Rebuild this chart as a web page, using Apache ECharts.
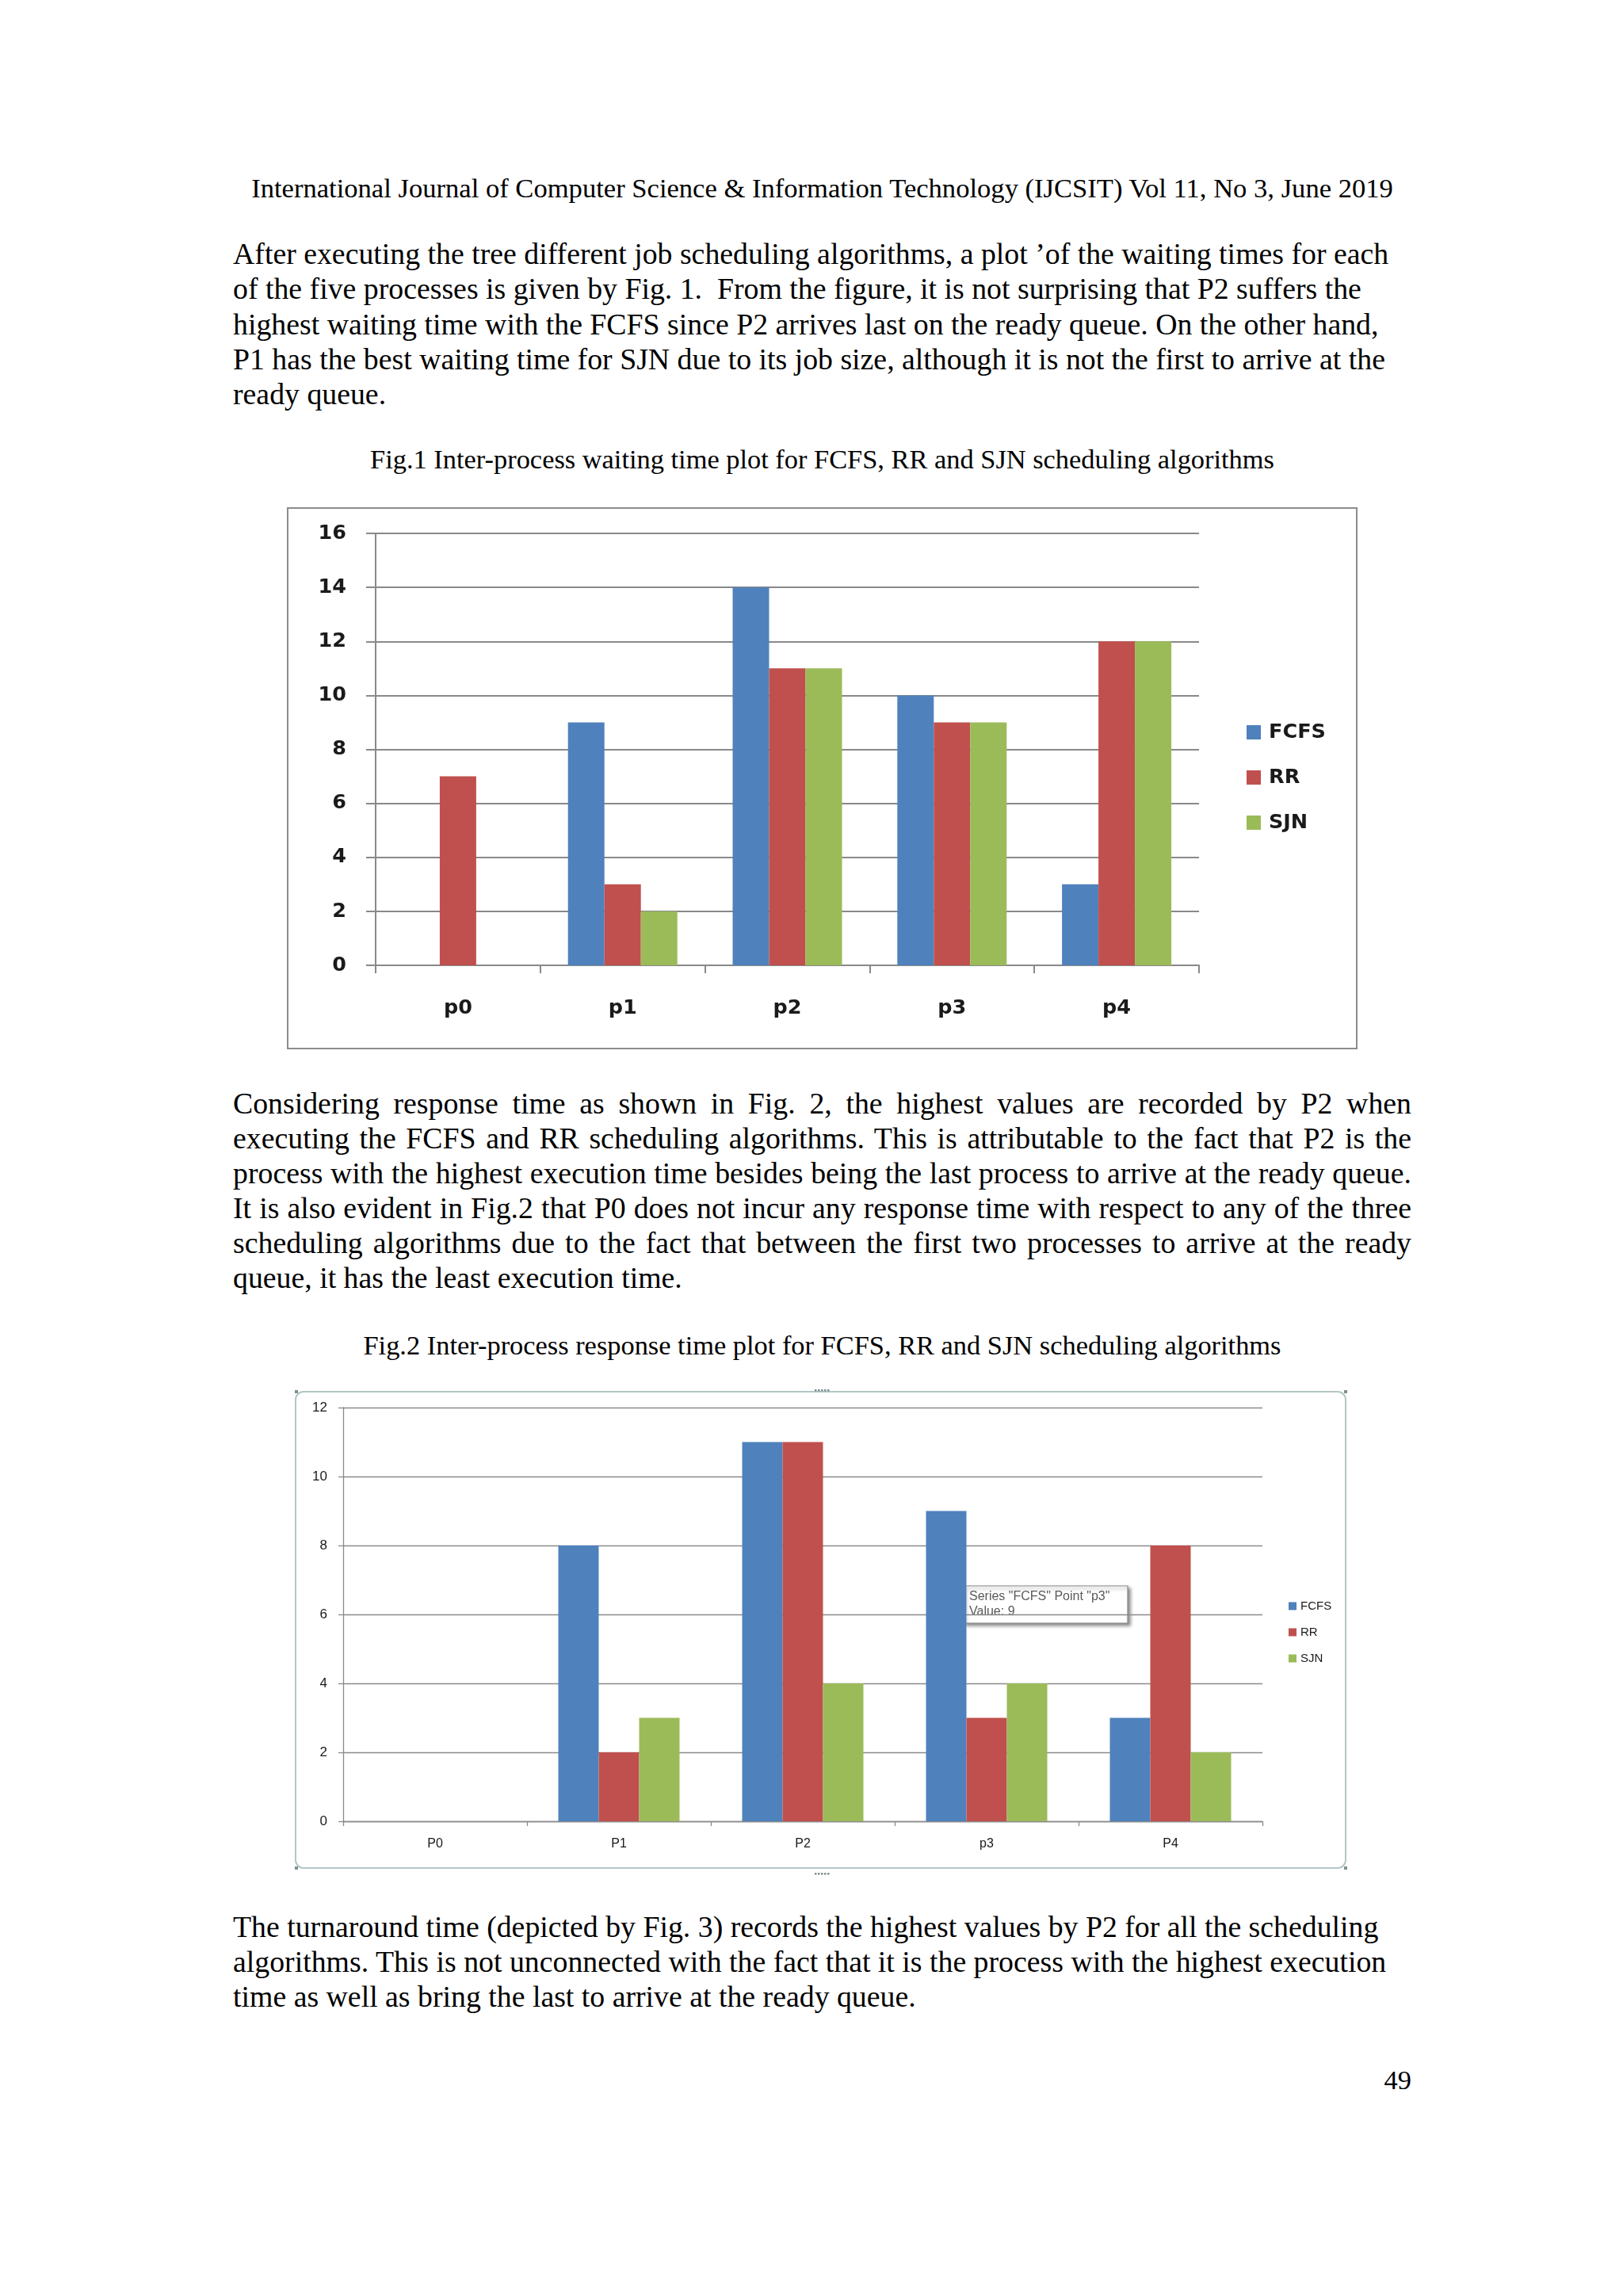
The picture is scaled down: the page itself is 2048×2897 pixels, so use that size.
<!DOCTYPE html>
<html><head><meta charset="utf-8">
<script src="https://cdn.jsdelivr.net/npm/echarts@6/dist/echarts.min.js"></script>
<style>
html,body{margin:0;padding:0;background:#fff;}
body{width:2048px;height:2897px;position:relative;overflow:hidden;font-family:"Liberation Serif","Times New Roman",serif;color:#000;}
.t{position:absolute;white-space:pre;}
.b{font-size:37.8px;line-height:44.4px;height:44.4px;}
.s{font-size:34.4px;line-height:40px;height:40px;}
.j{width:1487px;white-space:normal;text-align:justify;text-align-last:justify;}
#c1{position:absolute;left:362px;top:640px;width:1351px;height:684px;}
#c2{position:absolute;left:363px;top:1740px;width:1346px;height:630px;}
</style></head>
<body>
<div class="t s" style="left:0;width:2075px;text-align:center;top:217px;font-size:34.6px;">International Journal of Computer Science &amp; Information Technology (IJCSIT) Vol 11, No 3, June 2019</div>

<div class="t b" style="left:294px;top:298px;">After executing the tree different job scheduling algorithms, a plot ’of the waiting times for each</div>
<div class="t b" style="left:294px;top:342px;">of the five processes is given by Fig. 1.  From the figure, it is not surprising that P2 suffers the</div>
<div class="t b" style="left:294px;top:387px;">highest waiting time with the FCFS since P2 arrives last on the ready queue. On the other hand,</div>
<div class="t b" style="left:294px;top:431px;">P1 has the best waiting time for SJN due to its job size, although it is not the first to arrive at the</div>
<div class="t b" style="left:294px;top:475px;">ready queue.</div>

<div class="t s" style="left:0;width:2075px;text-align:center;top:559px;">Fig.1 Inter-process waiting time plot for FCFS, RR and SJN scheduling algorithms</div>

<div class="t b j" style="left:294px;top:1370px;">Considering response time as shown in Fig. 2, the highest values are recorded by P2 when</div>
<div class="t b j" style="left:294px;top:1414px;">executing the FCFS and RR scheduling algorithms. This is attributable to the fact that P2 is the</div>
<div class="t b j" style="left:294px;top:1458px;">process with the highest execution time besides being the last process to arrive at the ready queue.</div>
<div class="t b j" style="left:294px;top:1502px;">It is also evident in Fig.2 that P0 does not incur any response time with respect to any of the three</div>
<div class="t b j" style="left:294px;top:1546px;">scheduling algorithms due to the fact that between the first two processes to arrive at the ready</div>
<div class="t b" style="left:294px;top:1590px;">queue, it has the least execution time.</div>

<div class="t s" style="left:0;width:2075px;text-align:center;top:1677px;">Fig.2 Inter-process response time plot for FCFS, RR and SJN scheduling algorithms</div>

<div class="t b" style="left:294px;top:2409px;">The turnaround time (depicted by Fig. 3) records the highest values by P2 for all the scheduling</div>
<div class="t b" style="left:294px;top:2453px;">algorithms. This is not unconnected with the fact that it is the process with the highest execution</div>
<div class="t b" style="left:294px;top:2497px;">time as well as bring the last to arrive at the ready queue.</div>

<div class="t s" style="left:1581px;width:200px;text-align:right;top:2604px;">49</div>

<div id="c1"></div>
<div id="c2"></div>

<script>
// ---- Fig.1 data ----
const categories1 = ['p0', 'p1', 'p2', 'p3', 'p4'];
const fcfs1 = [0, 9, 14, 10, 3];
const rr1 = [7, 3, 11, 9, 12];
const sjn1 = [0, 2, 11, 9, 12];
const yMin1 = 0, yMax1 = 16, yStep1 = 2;

// ---- Fig.2 data ----
const categories2 = ['P0', 'P1', 'P2', 'p3', 'P4'];
const fcfs2 = [0, 8, 11, 9, 3];
const rr2 = [0, 2, 11, 3, 8];
const sjn2 = [0, 3, 4, 4, 2];
const yMin2 = 0, yMax2 = 12, yStep2 = 2;
const tipLines2 = ['Series "FCFS" Point "p3"', 'Value: 9'];

const seriesNames = ['FCFS', 'RR', 'SJN'];
const colors = ['#4F81BD', '#C0504D', '#9BBB59'];

// ---- Fig.1 ----
const ch1 = echarts.init(document.getElementById('c1'), null, {renderer: 'canvas'});
const f1 = 'DejaVu Sans';
const grid1 = '#898989';
ch1.setOption({
  animation: false,
  color: colors,
  grid: {left: 112, top: 33, width: 1039, height: 545},
  legend: {
    orient: 'vertical', left: 1206, top: 266, itemWidth: 18, itemHeight: 18, itemGap: 31,
    icon: 'rect', data: seriesNames,
    textStyle: {fontFamily: f1, fontSize: 25.5, fontWeight: 'bold', color: '#1a1a1a', lineHeight: 26, padding: [0, 0, 0, 5]}
  },
  xAxis: {
    type: 'category', data: categories1,
    axisLine: {lineStyle: {color: grid1, width: 2}},
    axisTick: {show: true, length: 10, lineStyle: {color: grid1, width: 2}},
    axisLabel: {fontFamily: f1, fontSize: 25.5, fontWeight: 'bold', color: '#1a1a1a', margin: 41, lineHeight: 26}
  },
  yAxis: {
    type: 'value', min: yMin1, max: yMax1, interval: yStep1,
    axisLine: {show: true, lineStyle: {color: grid1, width: 2}},
    axisTick: {show: true, length: 12, lineStyle: {color: grid1, width: 2}},
    splitLine: {lineStyle: {color: grid1, width: 2}},
    axisLabel: {fontFamily: f1, fontSize: 25.5, fontWeight: 'bold', color: '#1a1a1a', margin: 37}
  },
  graphic: [{
    type: 'rect', shape: {x: 1, y: 1, width: 1349, height: 682},
    style: {fill: 'none', stroke: '#8c8c8c', lineWidth: 2}, silent: true
  }],
  series: [
    {name: 'FCFS', type: 'bar', data: fcfs1, barWidth: 46, barGap: '0%'},
    {name: 'RR', type: 'bar', data: rr1, barWidth: 46, barGap: '0%'},
    {name: 'SJN', type: 'bar', data: sjn1, barWidth: 46, barGap: '0%'}
  ]
});

// ---- Fig.2 ----
const ch2 = echarts.init(document.getElementById('c2'), null, {renderer: 'canvas'});
const f2 = 'Liberation Sans';
const grid2 = '#8a8a8a';
const dots = [];
[[674, 13], [674, 623]].forEach(function (p) {
  for (let i = 0; i < 5; i++) {
    dots.push({type: 'rect', shape: {x: p[0] - 9 + i * 4, y: p[1], width: 2.5, height: 2.5}, style: {fill: '#7f8f8f'}, silent: true});
  }
});
[[9, 14], [1333, 14], [9, 615], [1333, 615]].forEach(function (p) {
  dots.push({type: 'rect', shape: {x: p[0], y: p[1], width: 4, height: 4}, style: {fill: '#7f9090'}, silent: true});
});
ch2.setOption({
  animation: false,
  color: colors,
  grid: {left: 70, top: 36, width: 1160, height: 522},
  legend: {
    orient: 'vertical', left: 1258, top: 274, itemWidth: 10, itemHeight: 10, itemGap: 18,
    icon: 'rect', data: seriesNames,
    textStyle: {fontFamily: f2, fontSize: 15, color: '#1a1a1a', lineHeight: 15}
  },
  xAxis: {
    type: 'category', data: categories2,
    axisLine: {lineStyle: {color: grid2, width: 1.3}},
    axisTick: {show: true, length: 6, lineStyle: {color: grid2, width: 1.3}},
    axisLabel: {fontFamily: f2, fontSize: 16, color: '#1a1a1a', margin: 21}
  },
  yAxis: {
    type: 'value', min: yMin2, max: yMax2, interval: yStep2,
    axisLine: {show: true, lineStyle: {color: grid2, width: 1.3}},
    axisTick: {show: true, length: 6, lineStyle: {color: grid2, width: 1.3}},
    splitLine: {lineStyle: {color: grid2, width: 1.3}},
    axisLabel: {fontFamily: f2, fontSize: 17, color: '#1a1a1a', margin: 20}
  },
  graphic: [{
    type: 'rect', shape: {x: 10, y: 16, width: 1325, height: 601, r: 10},
    style: {fill: 'none', stroke: '#b3c6c6', lineWidth: 2}, silent: true
  }].concat(dots).concat([{
    type: 'group', x: 853, y: 261, z: 100, children: [
      {type: 'rect', shape: {x: 0, y: 0, width: 207, height: 47},
       style: {fill: '#fff', stroke: '#8a8a8a', lineWidth: 1.2, shadowBlur: 4, shadowOffsetX: 3, shadowOffsetY: 3, shadowColor: 'rgba(0,0,0,0.45)'}},
      {type: 'text', x: 7, y: 14, style: {text: tipLines2[0], fontSize: 16, fontFamily: 'Liberation Sans', fill: '#5a5a5a', verticalAlign: 'middle', align: 'left'}},
      {type: 'text', x: 7, y: 33, style: {text: tipLines2[1], fontSize: 16, fontFamily: 'Liberation Sans', fill: '#5a5a5a', verticalAlign: 'middle', align: 'left'}}
    ]
  }]),
  series: [
    {name: 'FCFS', type: 'bar', data: fcfs2, barWidth: 51, barGap: '0%'},
    {name: 'RR', type: 'bar', data: rr2, barWidth: 51, barGap: '0%'},
    {name: 'SJN', type: 'bar', data: sjn2, barWidth: 51, barGap: '0%'}
  ]
});
</script>
</body></html>
